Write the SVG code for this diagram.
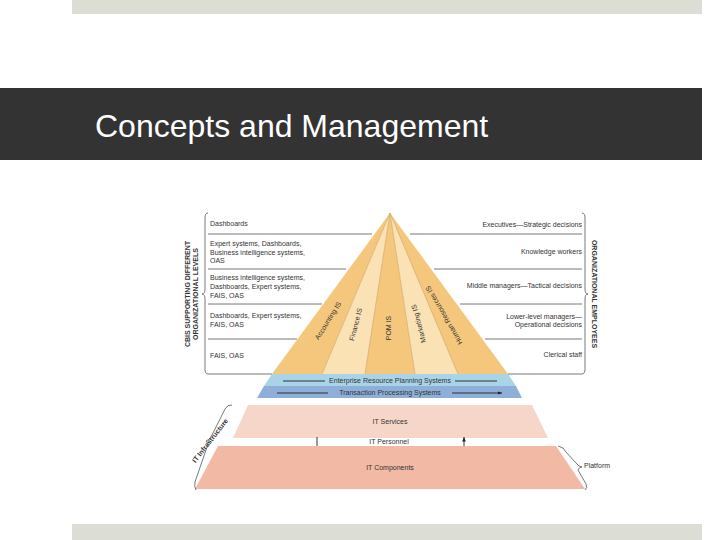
<svg xmlns="http://www.w3.org/2000/svg" width="720" height="540" viewBox="0 0 720 540">
<style>
text{font-family:"Liberation Sans",Arial,sans-serif;fill:#333}
.s{font-size:7px}
.r{text-anchor:end}
.m{text-anchor:middle}
.ln{stroke:#555;stroke-width:0.8;fill:none}
.dk{fill:#f5c77c}
.lt{fill:#fbe2b4}
</style>
<defs><marker id="ah" markerWidth="6" markerHeight="6" refX="5" refY="3" orient="auto"><path d="M0,1 L5,3 L0,5 Z" fill="#222"/></marker></defs>
<rect width="720" height="540" fill="#fff"/>
<rect x="72" y="0" width="630" height="14" fill="#dcddd5"/>
<rect x="72" y="524" width="630" height="16" fill="#dcddd5"/>
<rect x="0" y="88" width="702" height="72" fill="#333"/>
<text x="95" y="137" style="font-size:32px;fill:#fff">Concepts and Management</text>
<g id="pyramid">
<path class="dk" d="M390,213 L272,374 L322,374 Z"/>
<path class="lt" d="M390,213 L322,374 L365,374 Z"/>
<path class="dk" d="M390,213 L365,374 L415,374 Z"/>
<path class="lt" d="M390,213 L415,374 L458,374 Z"/>
<path class="dk" d="M390,213 L458,374 L508,374 Z"/>
<path d="M390,213 L322,374 M390,213 L365,374 M390,213 L415,374 M390,213 L458,374" stroke="#c9a060" stroke-width="0.6"/>
<text class="s m" transform="translate(330,322) rotate(-58)">Accounting IS</text>
<text class="s m" transform="translate(358,325) rotate(-75)">Finance IS</text>
<text class="s m" transform="translate(391,328) rotate(-90)">POM IS</text>
<text class="s m" transform="translate(421,323) rotate(-105)">Marketing IS</text>
<text class="s m" transform="translate(446,314) rotate(-120)">Human Resources IS</text>
</g>
<g id="erp"><path d="M272,374 L508,374 L516,386 L264,386 Z" fill="#a9d3e6"/>
<text class="s m" x="390" y="383">Enterprise Resource Planning Systems</text></g>
<g id="tps"><path d="M264,386 L516,386 L522,398 L257,398 Z" fill="#8eb0d8"/>
<text class="s m" x="390" y="395">Transaction Processing Systems</text></g>
<g id="itservices"><path d="M248,405 L532,405 L548,438 L233,438 Z" fill="#f7d6ca"/>
<text class="s m" x="390" y="424">IT Services</text></g>
<g id="itpersonnel"><text class="s m" x="389" y="444">IT Personnel</text></g>
<g id="itcomponents"><path d="M218,446 L556,446 L585,489 L195,489 Z" fill="#f2b9a5"/>
<text class="s m" x="390" y="470">IT Components</text></g>
<g id="labels-left">
<text class="s" x="210" y="226">Dashboards</text>
<text class="s" x="210" y="246">Expert systems, Dashboards,</text>
<text class="s" x="210" y="255">Business intelligence systems,</text>
<text class="s" x="210" y="263">OAS</text>
<text class="s" x="210" y="280">Business intelligence systems,</text>
<text class="s" x="210" y="289">Dashboards, Expert systems,</text>
<text class="s" x="210" y="298">FAIS, OAS</text>
<text class="s" x="210" y="318">Dashboards, Expert systems,</text>
<text class="s" x="210" y="327">FAIS, OAS</text>
<text class="s" x="210" y="358">FAIS, OAS</text>
<text class="s m" style="font-weight:bold" transform="translate(190,294) rotate(-90)">CBIS SUPPORTING DIFFERENT</text>
<text class="s m" style="font-weight:bold" transform="translate(198,294) rotate(-90)">ORGANIZATIONAL LEVELS</text>
</g>
<g id="labels-right">
<text class="s r" x="582" y="227">Executives—Strategic decisions</text>
<text class="s r" x="582" y="254">Knowledge workers</text>
<text class="s r" x="582" y="288">Middle managers—Tactical decisions</text>
<text class="s r" x="582" y="319">Lower-level managers—</text>
<text class="s r" x="582" y="327">Operational decisions</text>
<text class="s r" x="582" y="357">Clerical staff</text>
<text class="s m" style="font-weight:bold" transform="translate(592,294) rotate(90)">ORGANIZATIONAL EMPLOYEES</text>
<text class="s" x="584" y="468">Platform</text>
<text class="s m" style="font-weight:bold" transform="translate(212,442) rotate(-52)">IT Infrastructure</text>
</g>
<g id="connectors">
<path class="ln" d="M208,234 H372 M410,234 H582 M208,269 H346 M434,269 H582 M208,304 H322 M460,304 H582 M208,339 H297 M485,339 H582 M208,374 H272 M508,374 H582"/>
<path class="ln" d="M208,213 Q205,213 205,218 V289 Q205,294 202,294 Q205,294 205,299 V369 Q205,374 208,374"/>
<path class="ln" d="M582,213 Q585,213 585,218 V289 Q585,294 588,294 Q585,294 585,299 V369 Q585,374 582,374"/>
<path class="ln" d="M232,405 Q228,404 225,409 L212,435 Q210,440 206,441 Q209,443 207,447 L195,482 Q194,487 196,490"/>
<path class="ln" d="M558,446 Q564,447 566,452 L576,463 Q579,467 582,467 Q579,467 578,470 L586,484 Q588,488 585,490"/>
<path d="M325,381 H283 M455,381 H497 M328,393 H277 M452,393 H502" stroke="#222" stroke-width="0.9" marker-end="url(#ah)"/>
<path d="M317,446 V437 M464,446 V437" stroke="#222" stroke-width="0.9" marker-end="url(#ah)"/>
</g>
</svg>
